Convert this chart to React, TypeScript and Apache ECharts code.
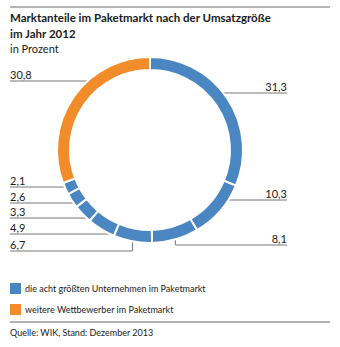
import React, { useEffect, useRef } from "react";
import * as echarts from "echarts";

// ---- data ----
const categories = [
  "Unternehmen 1",
  "Unternehmen 2",
  "Unternehmen 3",
  "Unternehmen 4",
  "Unternehmen 5",
  "Unternehmen 6",
  "Unternehmen 7",
  "Unternehmen 8",
  "weitere Wettbewerber",
];
const shares = [31.3, 10.3, 8.1, 6.7, 4.9, 3.3, 2.6, 2.1, 30.8];
const groups = [0, 0, 0, 0, 0, 0, 0, 0, 1];
const legendLabels = [
  "die acht größten Unternehmen im Paketmarkt",
  "weitere Wettbewerber im Paketmarkt",
];

// ---- layout / style ----
const FONT = "Lato, 'Noto Sans', sans-serif";
const COLORS = ["#4a86c1", "#f28b2a"];
const CX = 150;
const CY = 150;
const R_IN = 80;
const R_OUT = 93;
const LABEL_LINE_Y = [93, 200, 245, 251, 234, 218, 203, 187, 81];
const EDGE_RIGHT = 287;
const EDGE_LEFT = 10;

const fmt = (v: number) => v.toFixed(1).replace(".", ",");

export default function App() {
  const ref = useRef<HTMLDivElement>(null);

  useEffect(() => {
    document.body.style.margin = "0";
    if (!ref.current) return;
    const chart = echarts.init(ref.current, undefined, { renderer: "svg" });

    const total = shares.reduce((a, b) => a + b, 0);
    const starts: number[] = [];
    let acc = 0;
    shares.forEach((v) => {
      starts.push(acc);
      acc += v;
    });
    const toDeg = (v: number) => (v / total) * 360;

    const labelLayout = (params: any) => {
      const i = params.dataIndex;
      const a0 = toDeg(starts[i]);
      const a1 = toDeg(starts[i] + shares[i]);
      const mid = (a0 + a1) / 2;
      const right = mid < 180;
      const y = LABEL_LINE_Y[i];
      const xEdge = right ? EDGE_RIGHT : EDGE_LEFT;
      const dy = y - CY;
      let pts: number[][] | null = null;
      if (Math.abs(dy) < R_OUT) {
        const dx = Math.sqrt(R_OUT * R_OUT - dy * dy) * (right ? 1 : -1);
        let ang = (Math.atan2(dx, -dy) * 180) / Math.PI;
        if (ang < 0) ang += 360;
        if (ang >= a0 && ang <= a1) {
          pts = [
            [CX + dx, y],
            [xEdge, y],
          ];
        }
      }
      if (!pts) {
        const rad = (mid * Math.PI) / 180;
        const mx = CX + R_OUT * Math.sin(rad);
        const my = CY - R_OUT * Math.cos(rad);
        pts = [
          [mx, my],
          [mx, y],
          [xEdge, y],
        ];
      }
      return {
        x: xEdge,
        y: y - 1,
        align: right ? "right" : "left",
        verticalAlign: "bottom",
        labelLinePoints: pts,
      };
    };

    chart.setOption({
      animation: false,
      backgroundColor: "#ffffff",
      title: {
        text: "Marktanteile im Paketmarkt nach der Umsatzgröße\nim Jahr 2012",
        subtext: "in Prozent",
        left: 10,
        top: 9,
        itemGap: 0,
        padding: 0,
        textStyle: {
          fontFamily: FONT,
          fontSize: 11.5,
          fontWeight: "bold",
          color: "#1a1a1a",
          lineHeight: 16,
        },
        subtextStyle: {
          fontFamily: FONT,
          fontSize: 11,
          color: "#1a1a1a",
          lineHeight: 14,
        },
      },
      series: [
        {
          type: "pie",
          center: [CX, CY],
          radius: [R_IN, R_OUT],
          startAngle: 90,
          clockwise: true,
          silent: true,
          avoidLabelOverlap: false,
          itemStyle: { borderColor: "#ffffff", borderWidth: 2 },
          label: {
            show: true,
            position: "outside",
            overflow: "none",
            width: 60,
            formatter: (p: any) => fmt(p.value),
            fontFamily: FONT,
            fontSize: 11,
            color: "#1a1a1a",
          },
          labelLine: {
            show: true,
            lineStyle: { color: "#777777", width: 1 },
          },
          labelLayout,
          data: categories.map((name, i) => ({
            name,
            value: shares[i],
            itemStyle: { color: COLORS[groups[i]] },
          })),
        },
      ],
      graphic: [
        {
          type: "line",
          shape: { x1: 10, y1: 7, x2: 330, y2: 7 },
          style: { stroke: "#9a9a9a", lineWidth: 1.5 },
        },
        {
          type: "line",
          shape: { x1: 10, y1: 322, x2: 330, y2: 322 },
          style: { stroke: "#9a9a9a", lineWidth: 1.5 },
        },
        ...legendLabels.flatMap((txt, i) => [
          {
            type: "rect",
            shape: { x: 10, y: 283 + i * 21, width: 11, height: 11 },
            style: { fill: COLORS[i] },
          },
          {
            type: "text",
            x: 25,
            y: 288.5 + i * 21,
            style: {
              text: txt,
              fontFamily: FONT,
              fontSize: 9,
              fill: "#1a1a1a",
              verticalAlign: "middle",
            },
          },
        ]),
        {
          type: "text",
          x: 10,
          y: 332.5,
          style: {
            text: "Quelle: WIK, Stand: Dezember 2013",
            fontFamily: FONT,
            fontSize: 9,
            fill: "#1a1a1a",
            verticalAlign: "middle",
          },
        },
      ],
    });

    return () => chart.dispose();
  }, []);

  return <div ref={ref} style={{ width: 340, height: 347 }} />;
}
